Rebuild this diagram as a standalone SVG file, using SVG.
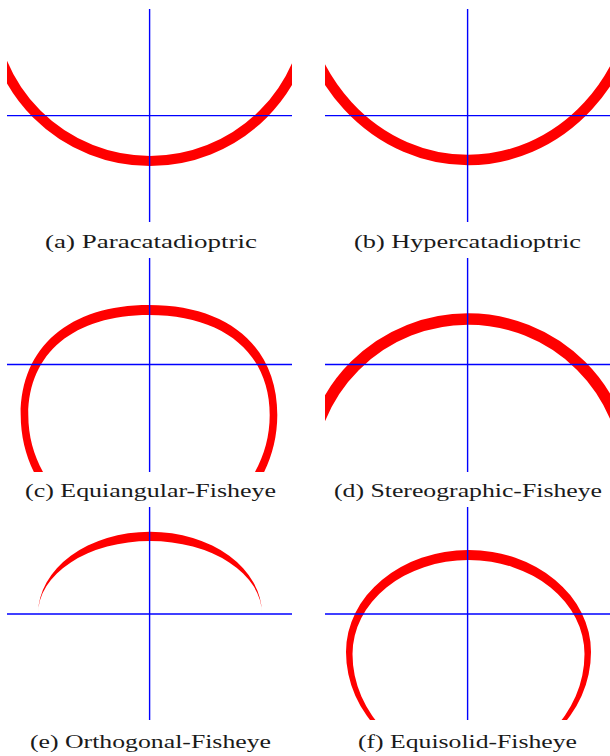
<svg xmlns="http://www.w3.org/2000/svg" width="610" height="756" viewBox="0 0 610 756">
<style>
.axis{stroke:#0000ff;stroke-width:1.4;fill:none}
.ring{fill:none;stroke:#ff0000}
.band{fill:#ff0000;fill-rule:evenodd;stroke:none}
.cap{font-family:"Liberation Serif","DejaVu Serif",serif;font-size:19px;fill:#1a1a1a}
</style>
<defs>
<clipPath id="clipA"><rect x="7" y="8" width="285" height="214"/></clipPath>
<clipPath id="clipB"><rect x="325" y="8" width="285" height="214"/></clipPath>
<clipPath id="clipC"><rect x="7" y="258" width="285" height="214"/></clipPath>
<clipPath id="clipD"><rect x="325" y="258" width="285" height="214"/></clipPath>
<clipPath id="clipE"><rect x="7" y="507" width="285" height="213"/></clipPath>
<clipPath id="clipF"><rect x="325" y="507" width="285" height="213"/></clipPath>
</defs>
<rect width="610" height="756" fill="#ffffff"/>

<g id="panel-a">
<circle class="ring" cx="150" cy="1" r="160" stroke-width="10" clip-path="url(#clipA)"/>
<line class="axis" x1="149.6" y1="9" x2="149.6" y2="222"/>
<line class="axis" x1="7" y1="115.6" x2="292" y2="115.6"/>
<text class="cap" x="45" y="248" textLength="212" lengthAdjust="spacingAndGlyphs">(a) Paracatadioptric</text>
</g>

<g id="panel-b">
<ellipse class="ring" cx="468" cy="-25" rx="170" ry="185" stroke-width="10.5" clip-path="url(#clipB)"/>
<line class="axis" x1="467.6" y1="9" x2="467.6" y2="222"/>
<line class="axis" x1="325" y1="115.6" x2="610" y2="115.6"/>
<text class="cap" x="354" y="248" textLength="227" lengthAdjust="spacingAndGlyphs">(b) Hypercatadioptric</text>
</g>

<g id="panel-c">
<path class="band" clip-path="url(#clipC)" d="M20.7 415 C20.7 346.8 69.5 305 149 305 C228.5 305 277.3 346.8 277.3 415 C277.3 486.2 219.9 544 149 544 C78.1 544 20.7 486.2 20.7 415 Z M28.3 415 C28.3 353 74.2 315 149 315 C223.8 315 269.7 353 269.7 415 C269.7 480.7 215.7 534 149 534 C82.3 534 28.3 480.7 28.3 415 Z"/>
<line class="axis" x1="149.6" y1="258" x2="149.6" y2="472"/>
<line class="axis" x1="7" y1="364.5" x2="292" y2="364.5"/>
<text class="cap" x="25" y="497" textLength="251" lengthAdjust="spacingAndGlyphs">(c) Equiangular-Fisheye</text>
</g>

<g id="panel-d">
<circle class="ring" cx="468" cy="479" r="160" stroke-width="11.5" clip-path="url(#clipD)"/>
<line class="axis" x1="467.6" y1="258" x2="467.6" y2="472"/>
<line class="axis" x1="325" y1="364.5" x2="610" y2="364.5"/>
<text class="cap" x="334" y="497" textLength="268" lengthAdjust="spacingAndGlyphs">(d) Stereographic-Fisheye</text>
</g>

<g id="panel-e">
<path class="band" clip-path="url(#clipE)" d="M38 614 A112 82.3 0 0 1 262 614 A112 73 0 0 0 38 614 Z"/>
<line class="axis" x1="149.6" y1="507" x2="149.6" y2="720"/>
<line class="axis" x1="7" y1="614" x2="292" y2="614"/>
<text class="cap" x="30" y="748" textLength="241" lengthAdjust="spacingAndGlyphs">(e) Orthogonal-Fisheye</text>
</g>

<g id="panel-f">
<path class="band" clip-path="url(#clipF)" d="M346 652 A122.5 102 0 0 1 591 652 A122.5 114.4 0 0 1 346 652 Z M352.5 654 A116 94 0 0 1 584.5 654 A116 110.5 0 0 1 352.5 654 Z"/>
<line class="axis" x1="467.6" y1="507" x2="467.6" y2="720"/>
<line class="axis" x1="325" y1="614" x2="610" y2="614"/>
<text class="cap" x="358" y="748" textLength="219" lengthAdjust="spacingAndGlyphs">(f) Equisolid-Fisheye</text>
</g>
</svg>
